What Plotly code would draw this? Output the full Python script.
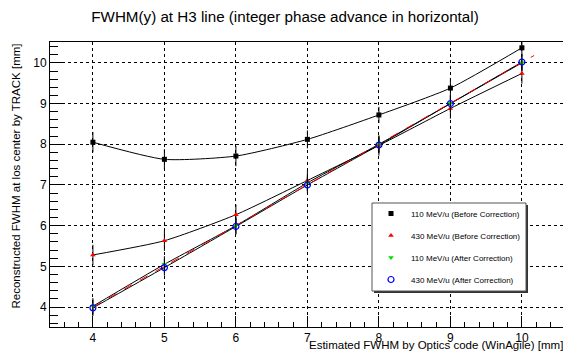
import plotly.graph_objects as go

x_vals = [4, 5, 6, 7, 8, 9, 10]
y_110_before = [8.05, 7.63, 7.71, 8.12, 8.72, 9.38, 10.37]
e_110_before = [0.25, 0.25, 0.25, 0.22, 0.2, 0.25, 0.2]
y_430_before = [5.28, 5.63, 6.27, 7.11, 7.97, 8.88, 9.74]
e_430_before = [0.25, 0.25, 0.25, 0.25, 0.25, 0.25, 0.25]
y_110_after = [4.02, 5.05, 6.0, 7.05, 8.0, 9.0, 10.0]
e_110_after = [0.2, 0.2, 0.2, 0.2, 0.2, 0.2, 0.2]
y_430_after = [3.98, 4.97, 5.98, 7.0, 7.98, 9.0, 10.02]
e_430_after = [0.2, 0.2, 0.2, 0.2, 0.2, 0.2, 0.2]
fit_x = [4.0, 10.17]
fit_y = [4.0, 10.18]

names = ["110 MeV/u (Before Correction)", "430 MeV/u (Before Correction)",
         "110 MeV/u (After Correction)", "430 MeV/u (After Correction)"]

series = [
    (y_110_before, e_110_before, dict(symbol="square", size=5, color="black")),
    (y_430_before, e_430_before, dict(symbol="triangle-up", size=5, color="red")),
    (y_110_after, e_110_after, dict(symbol="triangle-down", size=5, color="#00dd00")),
    (y_430_after, e_430_after, dict(symbol="circle-open", size=6, color="blue", line=dict(width=1.2, color="blue"))),
]

FONT = "Liberation Sans, Arial, Helvetica, sans-serif"
fig = go.Figure()

for ys, es, mk in series:
    fig.add_trace(go.Scatter(x=x_vals, y=ys, mode="lines",
                             line=dict(color="black", width=1, shape="spline", smoothing=0.6),
                             showlegend=False, hoverinfo="skip"))

fig.add_trace(go.Scatter(x=fit_x, y=fit_y, mode="lines", line=dict(color="red", width=1, dash="dash"),
                         showlegend=False))

for i, (ys, es, mk) in enumerate(series):
    fig.add_trace(go.Scatter(x=x_vals, y=ys, mode="markers", marker=mk, name=names[i],
                             legendgroup=f"g{i}",
                             error_y=dict(type="data", array=es, visible=True, color="black", thickness=1, width=0)))

W, H = 563, 354
L, R, T, B = 50, 0, 42, 27
pw, ph = W - L - R, H - T - B

def px(xp):
    return (xp - L) / pw

def py(yp):
    return 1 - (yp - T) / ph

lx0, lx1, ly0, ly1 = 372, 526, 203, 291
shapes = [
    dict(type="rect", xref="paper", yref="paper", x0=px(lx0 + 2), x1=px(lx1 + 2), y0=py(ly1 + 2), y1=py(ly0 + 2),
         fillcolor="#333", line=dict(width=0), layer="above"),
    dict(type="rect", xref="paper", yref="paper", x0=px(lx0), x1=px(lx1), y0=py(ly1), y1=py(ly0),
         fillcolor="white", line=dict(color="#555", width=1), layer="above"),
]

axis_common = dict(showline=True, linecolor="black", linewidth=1, mirror=True,
                   ticks="inside", tickcolor="black", showgrid=True, gridcolor="black",
                   griddash="dot", gridwidth=1, zeroline=False,
                   tickfont=dict(family=FONT, size=12, color="black"))

fig.update_layout(
    width=W, height=H, margin=dict(l=L, r=R, t=T, b=B),
    paper_bgcolor="white", plot_bgcolor="white",
    title=dict(text="FWHM(y) at H3 line (integer phase advance in horizontal)", x=285 / W, xref="container",
               xanchor="center", y=1 - 17 / H, yref="container", yanchor="middle",
               font=dict(family=FONT, size=15.2, color="black")),
    xaxis=dict(range=[3.4, 3.4 + pw / 71.5], dtick=1, tick0=0, ticklen=11,
               minor=dict(dtick=0.2, tick0=0, ticklen=5, ticks="inside", tickcolor="black", showgrid=False),
               **axis_common),
    yaxis=dict(range=[3.51, 3.51 + ph / 40.7], dtick=1, tick0=0, ticklen=14,
               minor=dict(dtick=0.2, tick0=0, ticklen=8, ticks="inside", tickcolor="black", showgrid=False),
               **axis_common),
    shapes=shapes,
    legend=dict(x=px(lx0 - 1), y=py(ly0 - 4), xanchor="left", yanchor="top", bgcolor="rgba(0,0,0,0)",
                borderwidth=0, font=dict(family=FONT, size=8, color="black"), tracegroupgap=3,
                itemwidth=30),
    annotations=[
        dict(text="Estimated FWHM by Optics code (WinAgile) [mm]", xref="paper", yref="paper",
             x=1.003, y=py(345), xanchor="right", yanchor="middle", showarrow=False,
             font=dict(family=FONT, size=11.5, color="black")),
        dict(text="Reconstructed FWHM at los center by TRACK [mm]", xref="paper", yref="paper",
             x=px(15), y=1, xanchor="center", yanchor="top", textangle=-90, showarrow=False,
             font=dict(family=FONT, size=11.5, color="black")),
    ],
)

fig.write_html("out.html", config={"displayModeBar": False},
               post_script="document.body.style.margin='0';document.body.style.padding='0';")
